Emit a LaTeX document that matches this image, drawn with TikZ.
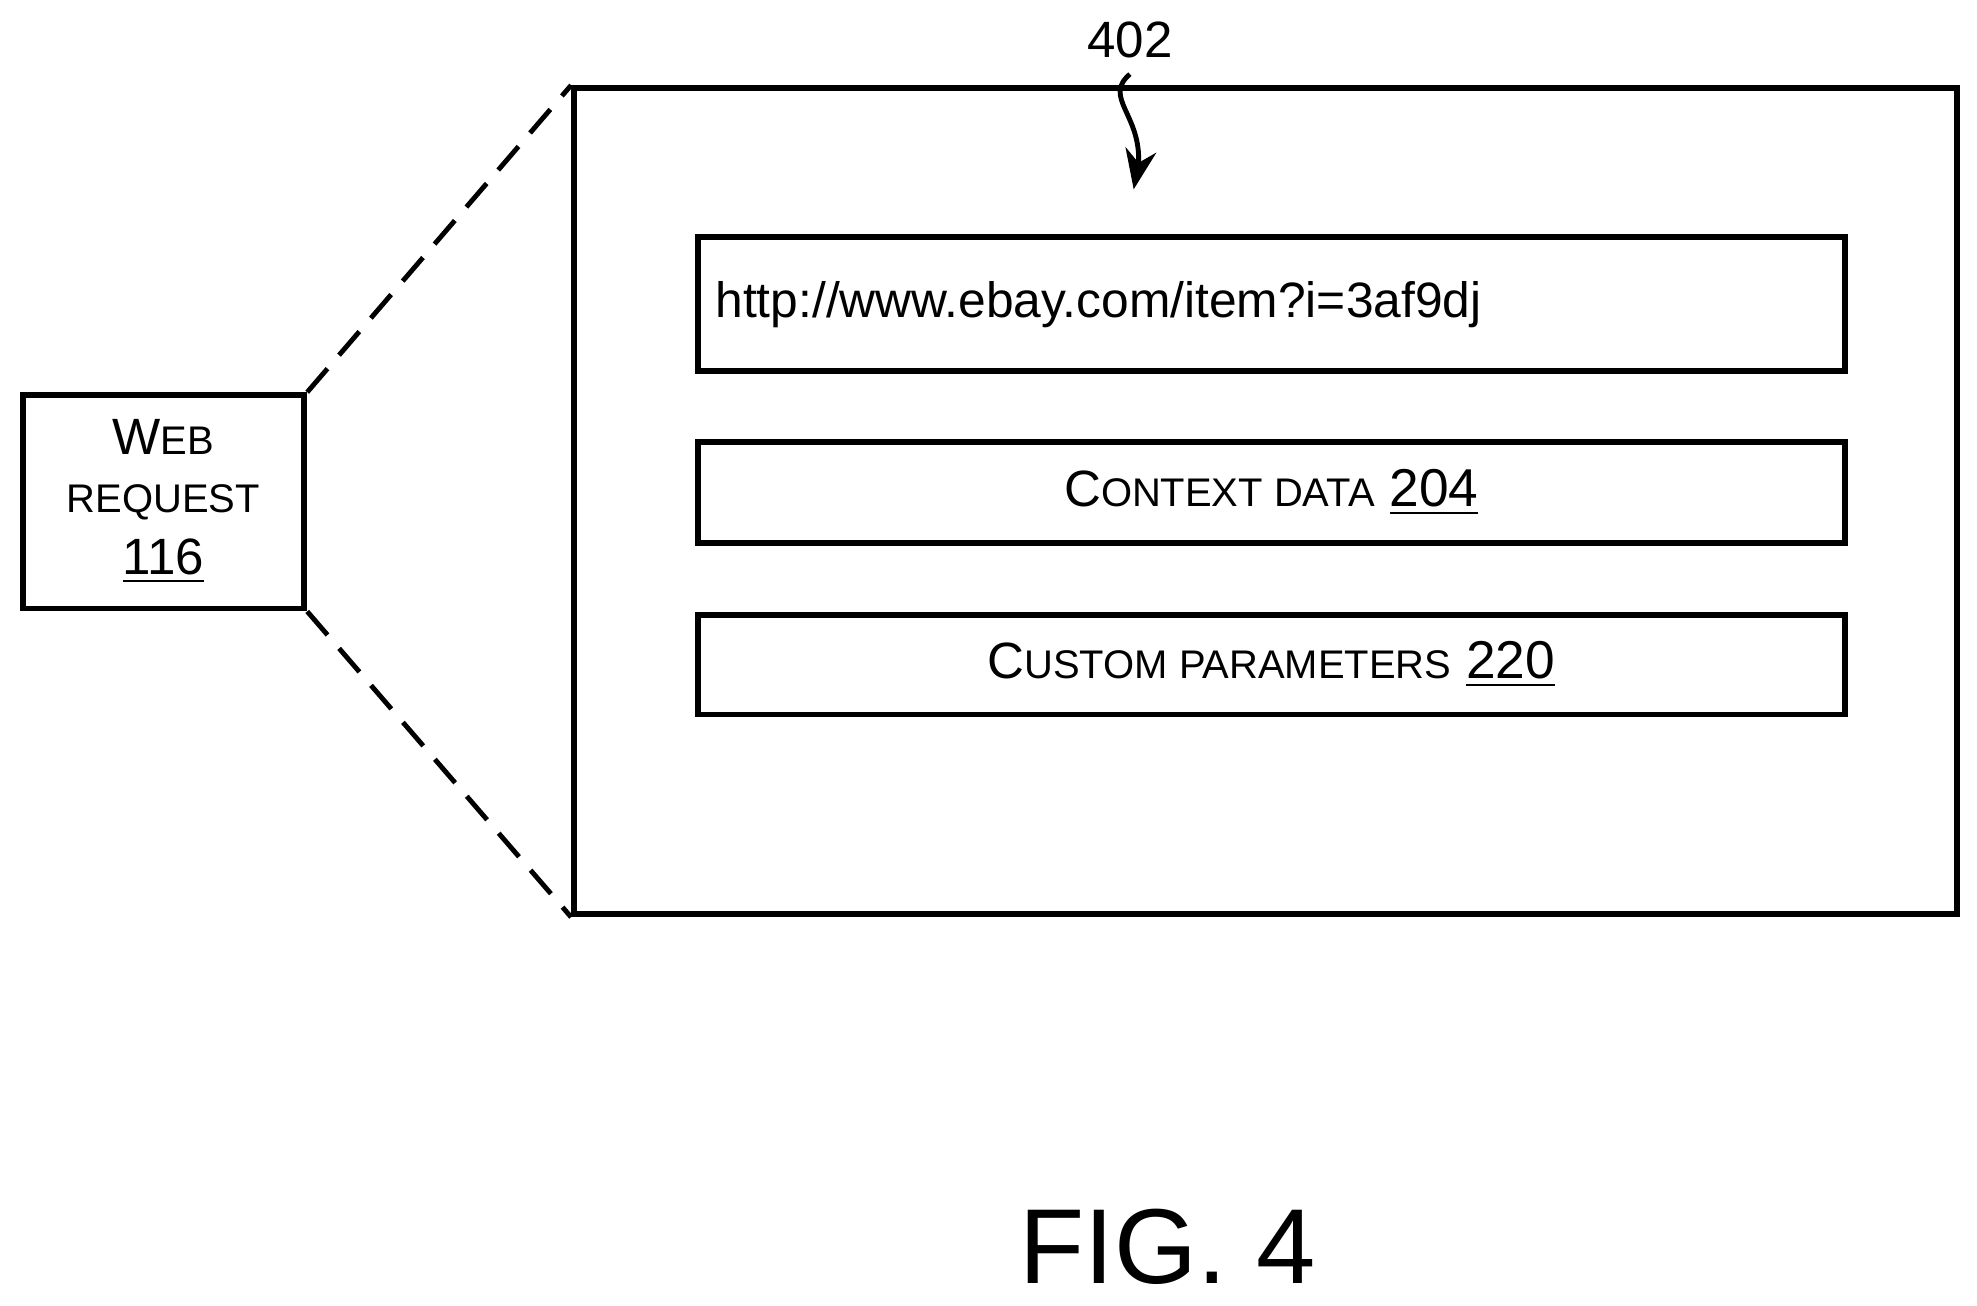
\documentclass[tikz,border=0pt]{standalone}
\usepackage{fontspec}
\setmainfont{Liberation Sans}
\usetikzlibrary{calc,bending,arrows.meta}
\tikzset{>=stealth}
\newcommand{\fsc}[2]{{\fontsize{11.5}{12}\selectfont #1}{\fontsize{9}{10}\selectfont #2}}
\tikzset{box/.style={draw,line width=1.3pt,inner sep=0pt},
  field/.style={box,minimum width=9.08cm,font=\fontsize{12}{14}\selectfont},
  zoomline/.style={line width=1.1pt,dash pattern=on 7pt off 4pt}}
\begin{document}
\begin{tikzpicture}[x=0.01cm,y=-0.01cm]
  \useasboundingbox (0,0) rectangle (1566,1034);
  % request box and its zoomed view
  \node[box,minimum width=2.23cm,minimum height=1.69cm,align=center,font=\fontsize{11}{15}\selectfont] (req) at (129.5,397.5)
     {\fsc{W}{EB}\\[-2pt]\fsc{}{REQUEST}\\[-1pt]{\fontsize{11.5}{12}\selectfont\underline{116}}};
  \node[box,minimum width=10.95cm,minimum height=6.54cm] (view) at (1002.5,397) {};
  \draw[zoomline] (req.north east) -- (view.north west);
  \draw[zoomline] (req.south east) -- (view.south west);
  % fields
  \node[field,minimum height=1.06cm,text width=8.8cm,align=left,font=\fontsize{11.2}{14}\selectfont] (url) at (1007,241) {http://www.ebay.com/item?i=3af9dj};
  \node[field,minimum height=0.80cm] (ctx) at (1007,390) {\fsc{C}{ONTEXT DATA} \underline{204}};
  \node[field,minimum height=0.79cm] (cust) at (1007,526.5) {\fsc{C}{USTOM PARAMETERS} \underline{220}};
  % reference label
  \node[font=\fontsize{11.5}{14}\selectfont] (lbl) at (895,32) {402};
  \coordinate (tip) at (898,150);
  \draw[line width=1.1pt,-{Stealth[length=9pt,width=7pt]}] (lbl.south) .. controls (870,80) and (915,95) .. (tip);
  \node[font=\fontsize{24}{28}\selectfont] (fig) at (925,988) {FIG. 4};
\end{tikzpicture}
\end{document}
